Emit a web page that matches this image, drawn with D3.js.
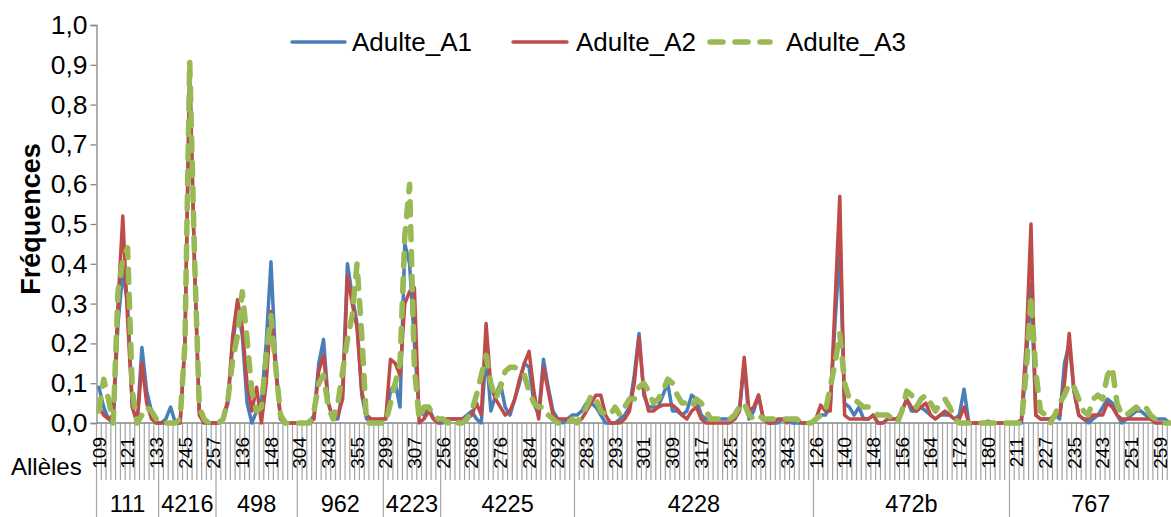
<!DOCTYPE html>
<html>
<head>
<meta charset="utf-8">
<script src="https://cdn.jsdelivr.net/npm/d3@7"></script>
<style>
  html, body { margin: 0; padding: 0; background: #ffffff; }
  svg { display: block; font-family: "Liberation Sans", Arial, sans-serif; }
</style>
</head>
<body>
<svg id="chart" width="1171" height="517"></svg>
<script>
// Loci (second level of the category axis) and their alleles (first level)
const loci = ["111", "4216", "498", "962", "4223", "4225", "4228", "472b", "767"];
const alleles111  = [109,111,113,115,117,119,121,123,125,127,129,131,133];
const alleles4216 = [235,237,239,241,243,245,247,249,251,253,255,257];
const alleles498  = [126,128,130,132,134,136,138,140,142,144,146,148,150,152,154,156,158];
const alleles962  = [304,315,325,333,337,341,343,345,347,349,351,353,355,357,359,361,363,365];
const alleles4223 = [299,300,301,302,303,305,307,308,309,311,313,315];
const alleles4225 = [256,258,260,262,264,266,268,269,270,271,272,274,276,277,278,279,280,282,284,285,286,287,288,290,292,294,296,298];
const alleles4228 = [279,281,283,285,287,289,290,291,293,294,295,296,297,299,301,302,303,304,305,307,309,310,311,312,313,315,317,318,319,320,321,323,325,326,327,328,329,331,333,335,337,338,339,341,343,345,347,349,351,353];
const alleles472b = [126,128,130,132,134,137,140,141,142,144,145,146,148,149,150,152,153,154,156,157,158,160,161,162,164,165,166,168,169,170,172,173,174,176,177,178,180,182,184,186,188];
const alleles767  = [209,211,213,215,218,221,224,227,228,229,230,231,233,235,236,237,238,239,241,243,244,245,246,247,249,251,252,253,254,255,257,259,261,263];
const allelesByLocus = [alleles111, alleles4216, alleles498, alleles962, alleles4223, alleles4225, alleles4228, alleles472b, alleles767];

const seriesNames = ["Adulte_A1", "Adulte_A2", "Adulte_A3"];

// Allele frequencies, in the same order as the alleles above
const adulteA1 = [
  0.09,0.04,0.01,0.0,0.25,0.38,0.30,0.04,0.0,0.19,0.08,0.03,0.0,
  0.0,0.01,0.04,0.0,0.0,0.2,0.89,0.4,0.03,0.01,0.0,0.0,
  0.0,0.01,0.05,0.2,0.29,0.22,0.05,0.0,0.03,0.05,0.2,0.405,0.15,0.01,0.0,0.0,0.0,
  0.0,0.0,0.0,0.02,0.15,0.21,0.05,0.01,0.01,0.08,0.40,0.32,0.25,0.07,0.01,0.01,0.0,0.01,
  0.01,0.08,0.1,0.04,0.45,0.4,0.2,0.03,0.02,0.04,0.01,0.0,
  0.0,0.01,0.01,0.01,0.01,0.02,0.03,0.01,0.0,0.18,0.03,0.07,0.1,0.04,0.02,0.06,0.1,0.15,0.14,0.05,0.02,0.16,0.09,0.03,0.01,0.0,0.01,0.02,
  0.02,0.03,0.05,0.05,0.04,0.02,0.0,0.0,0.0,0.01,
  0.02,0.04,0.12,0.225,0.07,0.04,0.04,0.04,0.07,0.1,
  0.03,0.03,0.02,0.03,0.07,0.06,0.02,0.01,0.01,0.01,
  0.01,0.01,0.01,0.01,0.03,0.15,0.01,0.03,0.07,0.01,
  0.0,0.0,0.0,0.01,0.01,0.0,0.0,0.0,0.0,0.0,
  0.01,0.02,0.02,0.04,0.25,0.44,0.05,0.04,0.02,0.04,
  0.01,0.01,0.02,0.0,0.0,0.01,0.01,0.01,0.03,0.06,
  0.03,0.03,0.04,0.03,0.02,0.01,0.02,0.02,0.02,0.01,
  0.02,0.085,0.0,0.0,0.0,0.0,0.005,0.0,0.0,0.0,0.0,
  0.0,0.0,0.0,0.15,0.35,0.02,0.01,0.01,0.01,0.02,
  0.01,0.15,0.2,0.08,0.02,0.01,0.0,0.01,0.02,0.04,
  0.06,0.05,0.02,0.0,0.01,0.02,0.03,0.03,0.02,0.01,
  0.01,0.01,0.01,0.0
];
const adulteA2 = [
  0.04,0.02,0.01,0.02,0.30,0.52,0.26,0.04,0.0,0.15,0.05,0.01,0.0,
  0.0,0.0,0.0,0.0,0.0,0.2,0.89,0.4,0.02,0.0,0.0,0.0,
  0.0,0.01,0.06,0.22,0.31,0.24,0.1,0.03,0.09,0.0,0.1,0.28,0.13,0.01,0.0,0.0,0.0,
  0.0,0.0,0.0,0.01,0.13,0.17,0.05,0.01,0.02,0.06,0.37,0.30,0.24,0.08,0.02,0.01,0.01,0.01,
  0.01,0.16,0.15,0.12,0.3,0.33,0.34,0.0,0.01,0.03,0.01,0.0,
  0.01,0.01,0.01,0.01,0.01,0.01,0.02,0.05,0.02,0.25,0.09,0.06,0.04,0.02,0.03,0.06,0.11,0.15,0.18,0.08,0.01,0.14,0.08,0.02,0.01,0.01,0.01,0.01,
  0.0,0.01,0.03,0.05,0.07,0.07,0.02,0.0,0.0,0.0,
  0.01,0.03,0.1,0.215,0.08,0.03,0.03,0.04,0.045,0.045,
  0.045,0.035,0.02,0.01,0.03,0.04,0.01,0.0,0.0,0.0,
  0.0,0.0,0.0,0.01,0.03,0.165,0.03,0.04,0.07,0.01,
  0.0,0.0,0.01,0.01,0.0,0.01,0.01,0.0,0.0,0.0,
  0.01,0.045,0.03,0.03,0.3,0.57,0.02,0.01,0.01,0.01,
  0.01,0.01,0.02,0.0,0.0,0.01,0.01,0.01,0.03,0.06,
  0.04,0.03,0.04,0.05,0.02,0.01,0.02,0.03,0.02,0.01,
  0.01,0.04,0.0,0.0,0.0,0.0,0.0,0.0,0.0,0.0,0.0,
  0.0,0.0,0.01,0.2,0.5,0.02,0.01,0.01,0.01,0.02,
  0.02,0.1,0.225,0.08,0.02,0.01,0.01,0.02,0.02,0.02,
  0.05,0.04,0.02,0.01,0.01,0.01,0.01,0.01,0.01,0.01,
  0.0,0.0,0.0,0.0
];
const adulteA3 = [
  0.03,0.11,0.06,0.0,0.33,0.41,0.44,0.08,0.0,0.02,0.04,0.03,0.01,
  0.0,0.0,0.0,0.0,0.01,0.2,0.91,0.42,0.04,0.01,0.0,0.0,
  0.0,0.01,0.06,0.16,0.22,0.33,0.21,0.08,0.03,0.04,0.17,0.27,0.14,0.02,0.0,0.0,0.0,
  0.0,0.0,0.0,0.03,0.1,0.12,0.04,0.01,0.05,0.13,0.21,0.27,0.40,0.22,0.0,0.0,0.0,0.0,
  0.0,0.05,0.1,0.15,0.47,0.6,0.14,0.01,0.04,0.04,0.02,0.01,
  0.01,0.0,0.01,0.0,0.0,0.01,0.03,0.07,0.12,0.17,0.1,0.06,0.09,0.13,0.14,0.14,0.13,0.12,0.08,0.05,0.04,0.04,0.02,0.01,0.0,0.0,0.0,0.01,
  0.0,0.02,0.04,0.07,0.06,0.03,0.02,0.02,0.04,0.02,
  0.04,0.06,0.06,0.09,0.1,0.08,0.05,0.06,0.08,0.11,
  0.1,0.07,0.05,0.05,0.04,0.06,0.05,0.03,0.01,0.01,
  0.01,0.01,0.01,0.02,0.04,0.05,0.02,0.01,0.02,0.01,
  0.01,0.01,0.01,0.01,0.01,0.01,0.01,0.0,0.0,0.0,
  0.01,0.02,0.03,0.09,0.15,0.225,0.1,0.06,0.06,0.05,
  0.04,0.04,0.03,0.02,0.02,0.02,0.01,0.0,0.03,0.08,
  0.07,0.04,0.06,0.07,0.05,0.03,0.05,0.06,0.04,0.01,
  0.0,0.0,0.0,0.0,0.0,0.0,0.0,0.0,0.0,0.0,0.0,
  0.0,0.0,0.0,0.13,0.32,0.13,0.03,0.02,0.0,0.02,
  0.05,0.07,0.1,0.09,0.06,0.03,0.02,0.06,0.07,0.06,
  0.12,0.14,0.05,0.02,0.02,0.03,0.04,0.03,0.04,0.02,
  0.01,0.01,0.0,0.0
];

const yTicks = [0, 0.1, 0.2, 0.3, 0.4, 0.5, 0.6, 0.7, 0.8, 0.9, 1.0];
const labelEvery = 6;

// ---- build category list ----
const categories = [];
const groups = [];
allelesByLocus.forEach((list, gi) => {
  const start = categories.length;
  list.forEach(a => categories.push({ locus: loci[gi], allele: String(a) }));
  groups.push({ name: loci[gi], start, end: categories.length });
});
const n = categories.length;

// ---- geometry ----
const width = 1171, height = 517;
const plotLeft = 96.5, bandW = 4.78;
const plotTop = 25, plotBottom = 423;
const axisColor = "#868686";
const font = "'Liberation Sans', Arial, sans-serif";

const svg = d3.select("#chart");

const x = d3.scaleBand()
  .domain(d3.range(n))
  .range([plotLeft, plotLeft + n * bandW])
  .paddingInner(0).paddingOuter(0);
const bw = x.bandwidth();
const y = d3.scaleLinear().domain([0, 1]).range([plotBottom, plotTop]);

const fmt = d => d3.format(".1f")(d).replace(".", ",");

// ---- y axis ----
const yAxis = d3.axisLeft(y).tickValues(yTicks).tickSize(6).tickPadding(3).tickFormat(fmt);
const gy = svg.append("g").attr("transform", `translate(${plotLeft},0)`).call(yAxis);
gy.select(".domain").attr("stroke", axisColor).attr("stroke-width", 1.3);
gy.selectAll(".tick line").attr("stroke", axisColor).attr("stroke-width", 1.3);
gy.selectAll(".tick text").attr("fill", "#000").attr("font-size", 26.5)
  .attr("font-family", font);

// y axis title
svg.append("text")
  .attr("transform", "translate(40,219) rotate(-90)")
  .attr("text-anchor", "middle")
  .attr("font-size", 27).attr("font-weight", "bold").attr("fill", "#000")
  .text("Fréquences");

// ---- x axis (two levels) ----
const gx = svg.append("g").attr("transform", `translate(0,${plotBottom})`);
// category separators
const bounds = d3.range(n + 1).map(i => i < n ? x(i) : x(n - 1) + bw);
gx.selectAll("line.sep").data(bounds).join("line")
  .attr("class", "sep")
  .attr("x1", d => d).attr("x2", d => d)
  .attr("y1", 0).attr("y2", 57)
  .attr("stroke", "#a5a5a5").attr("stroke-width", 1.2);
// axis line
gx.append("line")
  .attr("x1", plotLeft).attr("x2", x(n - 1) + bw)
  .attr("y1", 0).attr("y2", 0)
  .attr("stroke", axisColor).attr("stroke-width", 1.5);

// allele labels (every sixth category)
const xAxis = d3.axisBottom(x)
  .tickValues(d3.range(0, n, labelEvery))
  .tickSize(0)
  .tickFormat(i => categories[i].allele);
const gl = svg.append("g").attr("transform", `translate(0,${plotBottom})`).call(xAxis);
gl.select(".domain").remove();
gl.selectAll(".tick text")
  .attr("font-size", 19).attr("fill", "#000")
  .attr("font-family", font)
  .attr("text-anchor", "end")
  .attr("transform", "translate(0,14) rotate(-90)")
  .attr("x", 0).attr("y", 0).attr("dy", "0.35em");

// locus separators and names
const gg = svg.append("g").attr("transform", `translate(0,${plotBottom})`);
const gBounds = groups.map(g => x(g.start)).concat([x(n - 1) + bw]);
gg.selectAll("line.gsep").data(gBounds).join("line")
  .attr("class", "gsep")
  .attr("x1", d => d).attr("x2", d => d)
  .attr("y1", 57).attr("y2", height - plotBottom)
  .attr("stroke", "#a5a5a5").attr("stroke-width", 1.2);
gg.selectAll("text.glabel").data(groups).join("text")
  .attr("class", "glabel")
  .attr("x", g => (x(g.start) + x(g.end - 1) + bw) / 2)
  .attr("y", 88.5)
  .attr("text-anchor", "middle")
  .attr("font-size", 23.5).attr("fill", "#000")
  .text(g => g.name);

svg.append("text")
  .attr("x", 11).attr("y", 475)
  .attr("font-size", 24).attr("fill", "#000")
  .text("Allèles");

// ---- series ----
const series = [
  { name: seriesNames[0], values: adulteA1, color: "#4a7ebb", w: 3.5, dash: null },
  { name: seriesNames[1], values: adulteA2, color: "#be4b48", w: 3.5, dash: null },
  { name: seriesNames[2], values: adulteA3, color: "#98b954", w: 5.5, dash: "13,12" }
];
const line = d3.line().x((d, i) => x(i) + bw / 2).y(d => y(d));
const plot = svg.append("g");
series.forEach(s => {
  plot.append("path")
    .datum(s.values)
    .attr("d", line)
    .attr("fill", "none")
    .attr("stroke", s.color)
    .attr("stroke-width", s.w)
    .attr("stroke-linejoin", "round")
    .attr("stroke-linecap", "round")
    .attr("stroke-dasharray", s.dash);
});

// ---- legend ----
const legendItems = [
  { s: series[0], x1: 292, x2: 345, tx: 352 },
  { s: series[1], x1: 513, x2: 567, tx: 576 },
  { s: series[2], x1: 710, x2: 770, tx: 786 }
];
const lg = svg.append("g");
legendItems.forEach(it => {
  lg.append("line")
    .attr("x1", it.x1).attr("x2", it.x2).attr("y1", 42).attr("y2", 42)
    .attr("stroke", it.s.color).attr("stroke-width", it.s.w)
    .attr("stroke-linecap", "round")
    .attr("stroke-dasharray", it.s.dash);
  lg.append("text")
    .attr("x", it.tx).attr("y", 42).attr("dy", "0.35em")
    .attr("font-size", 26).attr("fill", "#000")
    .text(it.s.name);
});
</script>
</body>
</html>
